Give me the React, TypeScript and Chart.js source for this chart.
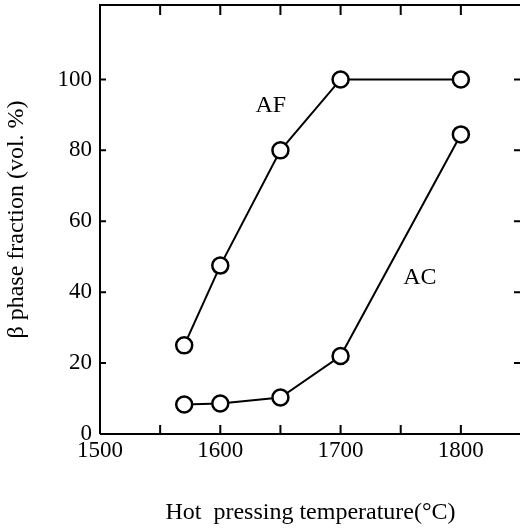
import React, { useEffect, useRef } from "react";
import { Chart, registerables } from "chart.js";

Chart.register(...registerables);

const temperatures = [1570, 1600, 1650, 1700, 1800];
const afValues = [25, 47.5, 80, 100, 100];
const acValues = [8.3, 8.6, 10.3, 22, 84.5];
const xTickLabels = [1500, 1600, 1700, 1800];
const yTickLabels = [0, 20, 40, 60, 80, 100];
const seriesNames = ["AF", "AC"];
const labelAnchors = [
  { x: 1642, y: 92.5 },
  { x: 1766, y: 44 },
];

const FONT = "'Liberation Serif', 'Times New Roman', serif";

const framePlugin = {
  id: "framePlugin",
  afterDatasetsDraw(chart: any) {
    const { ctx, chartArea, scales } = chart;
    const xs = scales.x;
    const ys = scales.y;
    ctx.save();
    ctx.strokeStyle = "#000";
    ctx.lineWidth = 2;
    ctx.lineCap = "butt";
    // frame
    ctx.beginPath();
    ctx.moveTo(chartArea.left, chartArea.bottom);
    ctx.lineTo(chartArea.left, chartArea.top);
    ctx.lineTo(chartArea.right, chartArea.top);
    ctx.lineTo(chartArea.right, chartArea.bottom);
    ctx.lineTo(chartArea.left, chartArea.bottom);
    ctx.stroke();
    // x ticks (top & bottom, inward)
    ctx.beginPath();
    xs.ticks.forEach((t: any) => {
      const v = t.value;
      if (v <= xs.min || v > 1800) return;
      const px = xs.getPixelForValue(v);
      ctx.moveTo(px, chartArea.top);
      ctx.lineTo(px, chartArea.top + 10);
      ctx.moveTo(px, chartArea.bottom);
      ctx.lineTo(px, chartArea.bottom - 9);
    });
    // y ticks (left & right, inward)
    ys.ticks.forEach((t: any) => {
      const v = t.value;
      if (v <= ys.min || v > 100) return;
      const py = ys.getPixelForValue(v);
      ctx.moveTo(chartArea.left, py);
      ctx.lineTo(chartArea.left + 6, py);
      ctx.moveTo(chartArea.right, py);
      ctx.lineTo(chartArea.right - 7, py);
    });
    ctx.stroke();
    // series labels
    ctx.fillStyle = "#000";
    ctx.font = `24px ${FONT}`;
    ctx.textAlign = "center";
    ctx.textBaseline = "middle";
    seriesNames.forEach((name, i) => {
      const a = labelAnchors[i];
      ctx.fillText(name, xs.getPixelForValue(a.x), ys.getPixelForValue(a.y));
    });
    ctx.restore();
  },
};

export default function App() {
  const ref = useRef<HTMLCanvasElement | null>(null);

  useEffect(() => {
    if (!ref.current) return;
    const toPts = (vals: number[]) => temperatures.map((t, i) => ({ x: t, y: vals[i] }));
    const ds = (vals: number[]) => ({
      data: toPts(vals),
      showLine: true,
      borderColor: "#000",
      borderWidth: 2,
      pointRadius: 8,
      pointHoverRadius: 8,
      pointBorderWidth: 2.5,
      pointBackgroundColor: "#fff",
      pointBorderColor: "#000",
      backgroundColor: "#fff",
      tension: 0,
    });
    const chart = new Chart(ref.current, {
      type: "scatter",
      data: { datasets: [ds(afValues), ds(acValues)] },
      plugins: [framePlugin],
      options: {
        responsive: false,
        animation: false,
        events: [],
        layout: { autoPadding: false, padding: { top: 5, right: 3, left: 0, bottom: 0 } },
        plugins: { legend: { display: false }, tooltip: { enabled: false } },
        scales: {
          x: {
            type: "linear",
            min: 1500,
            max: 1850,
            grid: { display: false, drawTicks: false },
            border: { display: false },
            ticks: {
              stepSize: 50,
              padding: 3,
              color: "#000",
              font: { family: FONT, size: 23 },
              maxRotation: 0,
              autoSkip: false,
              callback: (v: any) => (xTickLabels.includes(Number(v)) ? String(v) : ""),
            },
            title: {
              display: true,
              text: "Hot  pressing temperature(°C)",
              color: "#000",
              font: { family: FONT, size: 24 },
              padding: { top: 0, bottom: 4 },
            },
            afterFit: (s: any) => {
              s.height = 97;
              s.paddingLeft = 0;
              s.paddingRight = 0;
            },
          },
          y: {
            type: "linear",
            min: 0,
            max: 121,
            grid: { display: false, drawTicks: false },
            border: { display: false },
            ticks: {
              stepSize: 20,
              padding: 8,
              color: "#000",
              font: { family: FONT, size: 23 },
              autoSkip: false,
              callback: (v: any) => (yTickLabels.includes(Number(v)) ? String(v) : ""),
            },
            title: {
              display: true,
              text: "β phase fraction (vol. %)",
              color: "#000",
              font: { family: FONT, size: 24 },
              padding: { top: 2, bottom: 0 },
            },
            afterFit: (s: any) => {
              s.width = 100;
              s.paddingTop = 0;
              s.paddingBottom = 0;
            },
          },
        },
      },
    } as any);
    return () => chart.destroy();
  }, []);

  return (
    <div style={{ position: "fixed", left: 0, top: 0, width: 520, height: 531, overflow: "hidden", background: "#fff" }}>
      <canvas ref={ref} width={524} height={531} style={{ display: "block", width: 524, height: 531 }} />
    </div>
  );
}
